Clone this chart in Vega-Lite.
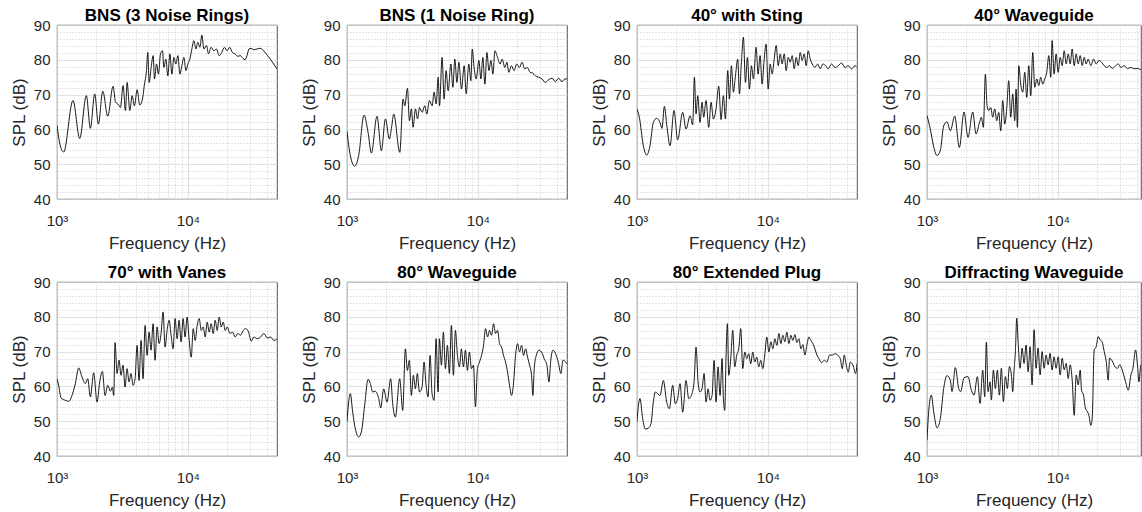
{
"$schema": "https://vega.github.io/schema/vega-lite/v6.json",
"background": "white",
"padding": {"left": 9, "top": 6, "right": 0, "bottom": 0},
"columns": 4,
"spacing": {"row": 83, "column": 70},
"bounds": "flush",
"resolve": {"scale": {"x": "independent", "y": "independent"}},
"config": {
"font": "Liberation Sans",
"view": {"stroke": "#262626", "strokeWidth": 0.8},
"title": {"font": "Liberation Sans", "fontSize": 17, "fontWeight": "bold", "color": "#000000", "anchor": "middle", "offset": -7, "frame": "group", "baseline": "alphabetic"},
"axis": {"labelFont": "Liberation Sans", "labelFontSize": 15, "labelColor": "#262626", "titleFont": "Liberation Sans", "titleFontSize": 17, "titleFontWeight": "normal", "titleColor": "#262626", "domain": false, "ticks": false, "gridWidth": 0.8},
"axisX": {"labelPadding": 14, "titlePadding": 7},
"axisY": {"labelPadding": 7, "titlePadding": 5}
},
"datasets": {
"p1": [{"f":1000,"spl":61.1},{"f":1060,"spl":55.3},{"f":1124,"spl":53.5},{"f":1325,"spl":68.3},{"f":1491,"spl":57.4},{"f":1676,"spl":69.7},{"f":1799,"spl":60.3},{"f":1942,"spl":70.2},{"f":2072,"spl":61.5},{"f":2237,"spl":71},{"f":2443,"spl":63.8},{"f":2682,"spl":72.4},{"f":2795,"spl":68},{"f":2964,"spl":67},{"f":3053,"spl":66.3},{"f":3200,"spl":72.6},{"f":3335,"spl":65.4},{"f":3434,"spl":73.5},{"f":3600,"spl":65.4},{"f":3750,"spl":69.7},{"f":3905,"spl":66.8},{"f":4096,"spl":71.4},{"f":4290,"spl":67},{"f":4500,"spl":68.7},{"f":4660,"spl":73},{"f":4830,"spl":76.9},{"f":4940,"spl":82.1},{"f":5060,"spl":73.5},{"f":5240,"spl":77.8},{"f":5430,"spl":81.2},{"f":5560,"spl":74.5},{"f":5760,"spl":78.8},{"f":5960,"spl":75.9},{"f":6180,"spl":81.7},{"f":6400,"spl":82.6},{"f":6555,"spl":77.8},{"f":6790,"spl":80.2},{"f":7030,"spl":75.4},{"f":7290,"spl":81.7},{"f":7550,"spl":75.9},{"f":7820,"spl":80.7},{"f":8100,"spl":78.8},{"f":8390,"spl":81.2},{"f":8690,"spl":75.9},{"f":9000,"spl":78.3},{"f":9330,"spl":80.7},{"f":9660,"spl":76.9},{"f":10000,"spl":78.8},{"f":10360,"spl":80.2},{"f":10730,"spl":83.1},{"f":11120,"spl":85.5},{"f":11520,"spl":83.1},{"f":11930,"spl":85},{"f":12360,"spl":83.6},{"f":12800,"spl":87.1},{"f":13260,"spl":83.1},{"f":13880,"spl":84.1},{"f":14380,"spl":81.7},{"f":15060,"spl":83.6},{"f":15790,"spl":82.6},{"f":16540,"spl":83.1},{"f":17330,"spl":81.2},{"f":18160,"spl":82.1},{"f":19030,"spl":83.6},{"f":19940,"spl":82.6},{"f":20890,"spl":83.6},{"f":21890,"spl":82.1},{"f":22940,"spl":81.7},{"f":24040,"spl":81},{"f":25190,"spl":81.2},{"f":26390,"spl":80.4},{"f":27330,"spl":80},{"f":28310,"spl":81.2},{"f":29320,"spl":83.1},{"f":30370,"spl":83.3},{"f":31800,"spl":82.9},{"f":33760,"spl":83.1},{"f":35790,"spl":83.3},{"f":37950,"spl":82.6},{"f":40240,"spl":81.4},{"f":42660,"spl":80.2},{"f":45240,"spl":78.8},{"f":47970,"spl":77.4}],
"p2": [{"f":1000,"spl":59.5},{"f":1060,"spl":52.5},{"f":1145,"spl":49.4},{"f":1228,"spl":52.5},{"f":1349,"spl":64.1},{"f":1448,"spl":59.2},{"f":1536,"spl":53.2},{"f":1696,"spl":63.8},{"f":1831,"spl":53.9},{"f":1966,"spl":63},{"f":2109,"spl":57.2},{"f":2185,"spl":60.3},{"f":2276,"spl":64.4},{"f":2531,"spl":53.4},{"f":2682,"spl":68.7},{"f":2765,"spl":66.8},{"f":2896,"spl":71.8},{"f":3000,"spl":62.5},{"f":3105,"spl":65.9},{"f":3200,"spl":60.6},{"f":3335,"spl":65.9},{"f":3460,"spl":63},{"f":3580,"spl":66.3},{"f":3750,"spl":64.9},{"f":3930,"spl":66.8},{"f":4070,"spl":64.4},{"f":4265,"spl":68.3},{"f":4470,"spl":66.8},{"f":4630,"spl":70.7},{"f":4800,"spl":67.3},{"f":4975,"spl":75},{"f":5090,"spl":66.8},{"f":5330,"spl":80.7},{"f":5520,"spl":68.7},{"f":5720,"spl":76.9},{"f":5930,"spl":71.1},{"f":6220,"spl":78.8},{"f":6440,"spl":72.1},{"f":6670,"spl":80.2},{"f":6910,"spl":73.5},{"f":7160,"spl":79.3},{"f":7500,"spl":71.6},{"f":7860,"spl":78.3},{"f":8140,"spl":70.2},{"f":8530,"spl":78.8},{"f":8840,"spl":74},{"f":9060,"spl":83.1},{"f":9380,"spl":77.4},{"f":9710,"spl":74.5},{"f":10180,"spl":79.8},{"f":10550,"spl":74.5},{"f":10920,"spl":80.7},{"f":11320,"spl":73},{"f":11730,"spl":82.1},{"f":12150,"spl":76.9},{"f":12590,"spl":79.8},{"f":13030,"spl":75.9},{"f":13500,"spl":82.6},{"f":14140,"spl":80.7},{"f":14800,"spl":78.8},{"f":15330,"spl":80.2},{"f":16090,"spl":77.8},{"f":16680,"spl":79.3},{"f":17230,"spl":76.4},{"f":18040,"spl":78.3},{"f":18920,"spl":76.9},{"f":19820,"spl":78.8},{"f":20770,"spl":77.8},{"f":21770,"spl":79.3},{"f":22800,"spl":77.4},{"f":23900,"spl":77.8},{"f":25040,"spl":76.4},{"f":26240,"spl":76.2},{"f":27500,"spl":75.4},{"f":29160,"spl":75},{"f":30900,"spl":74.5},{"f":32820,"spl":73.5},{"f":34780,"spl":74.3},{"f":36890,"spl":74.7},{"f":39100,"spl":73.7},{"f":41470,"spl":74.7},{"f":43950,"spl":73.7},{"f":46060,"spl":74.5},{"f":48000,"spl":74.5}],
"p3": [{"f":1000,"spl":65.9},{"f":1042,"spl":63.5},{"f":1118,"spl":55.3},{"f":1186,"spl":52.6},{"f":1257,"spl":55.3},{"f":1333,"spl":62},{"f":1414,"spl":63.2},{"f":1499,"spl":62},{"f":1553,"spl":60.3},{"f":1618,"spl":66.6},{"f":1696,"spl":60.6},{"f":1788,"spl":55.3},{"f":1918,"spl":65.4},{"f":2046,"spl":57},{"f":2235,"spl":64.9},{"f":2370,"spl":60.1},{"f":2543,"spl":63.9},{"f":2665,"spl":61.3},{"f":2745,"spl":75},{"f":2826,"spl":64.4},{"f":2911,"spl":69.7},{"f":3033,"spl":62},{"f":3142,"spl":67.8},{"f":3235,"spl":63.5},{"f":3371,"spl":68.3},{"f":3533,"spl":60.6},{"f":3681,"spl":67.8},{"f":3835,"spl":63},{"f":4020,"spl":65.9},{"f":4213,"spl":72.4},{"f":4390,"spl":62.8},{"f":4574,"spl":69.7},{"f":4738,"spl":63},{"f":4937,"spl":76.9},{"f":5084,"spl":68.7},{"f":5266,"spl":78.3},{"f":5455,"spl":70.7},{"f":5651,"spl":75.4},{"f":5887,"spl":80.2},{"f":6063,"spl":70.2},{"f":6280,"spl":79.3},{"f":6505,"spl":86.5},{"f":6739,"spl":73.5},{"f":6980,"spl":80.7},{"f":7230,"spl":71.6},{"f":7489,"spl":78.3},{"f":7758,"spl":74.5},{"f":8131,"spl":83.6},{"f":8422,"spl":75.9},{"f":8724,"spl":81.2},{"f":9038,"spl":73},{"f":9361,"spl":79.8},{"f":9697,"spl":84.5},{"f":10060,"spl":71.6},{"f":10420,"spl":78.8},{"f":10790,"spl":75.9},{"f":11180,"spl":80.2},{"f":11580,"spl":84.1},{"f":12000,"spl":78.3},{"f":12430,"spl":81.7},{"f":12870,"spl":78.8},{"f":13330,"spl":81.7},{"f":13810,"spl":76.9},{"f":14310,"spl":80.7},{"f":14820,"spl":79.3},{"f":15350,"spl":81.2},{"f":15900,"spl":77.4},{"f":16470,"spl":80.7},{"f":17060,"spl":78.3},{"f":17670,"spl":82.1},{"f":18300,"spl":79.8},{"f":18960,"spl":81.7},{"f":19640,"spl":78.3},{"f":20340,"spl":82.6},{"f":21070,"spl":80.2},{"f":21830,"spl":78.8},{"f":22880,"spl":77.8},{"f":23980,"spl":78.8},{"f":25130,"spl":77.4},{"f":26340,"spl":78.8},{"f":27610,"spl":78.3},{"f":28930,"spl":77.4},{"f":30680,"spl":78.8},{"f":32540,"spl":77.8},{"f":34510,"spl":78.3},{"f":36590,"spl":79.1},{"f":38810,"spl":77.8},{"f":41150,"spl":78.3},{"f":43640,"spl":77.4},{"f":46280,"spl":78.3},{"f":48000,"spl":77.8}],
"p4": [{"f":1000,"spl":64},{"f":1061,"spl":60},{"f":1125,"spl":55},{"f":1193,"spl":52.5},{"f":1265,"spl":54},{"f":1341,"spl":61},{"f":1422,"spl":62.2},{"f":1508,"spl":59.6},{"f":1628,"spl":63.8},{"f":1767,"spl":54.8},{"f":1918,"spl":65},{"f":2058,"spl":57.7},{"f":2235,"spl":65},{"f":2370,"spl":58.7},{"f":2513,"spl":61.8},{"f":2603,"spl":63.5},{"f":2697,"spl":60.6},{"f":2794,"spl":75.9},{"f":2877,"spl":66.8},{"f":2963,"spl":65.4},{"f":3068,"spl":66.3},{"f":3178,"spl":63.5},{"f":3292,"spl":65.9},{"f":3410,"spl":62.5},{"f":3533,"spl":64.9},{"f":3659,"spl":59.6},{"f":3791,"spl":68.3},{"f":3927,"spl":61.5},{"f":4067,"spl":65.9},{"f":4213,"spl":74},{"f":4364,"spl":63.5},{"f":4521,"spl":70.2},{"f":4683,"spl":62.5},{"f":4794,"spl":71.6},{"f":4908,"spl":60.6},{"f":5025,"spl":78.3},{"f":5204,"spl":73},{"f":5391,"spl":70.7},{"f":5584,"spl":76.4},{"f":5785,"spl":69.2},{"f":5993,"spl":78.3},{"f":6207,"spl":69.7},{"f":6429,"spl":82.1},{"f":6660,"spl":72.1},{"f":6899,"spl":74.5},{"f":7147,"spl":72.6},{"f":7402,"spl":75},{"f":7667,"spl":73},{"f":7942,"spl":74.5},{"f":8227,"spl":76.4},{"f":8523,"spl":81.2},{"f":8827,"spl":75},{"f":9038,"spl":85.5},{"f":9361,"spl":75.9},{"f":9697,"spl":81.7},{"f":10060,"spl":76.4},{"f":10420,"spl":80.7},{"f":10790,"spl":78.3},{"f":11180,"spl":82.6},{"f":11580,"spl":78.8},{"f":12000,"spl":81.7},{"f":12430,"spl":78.8},{"f":12870,"spl":83.1},{"f":13330,"spl":78.3},{"f":13810,"spl":81.7},{"f":14310,"spl":78.8},{"f":14820,"spl":81.2},{"f":15350,"spl":78.3},{"f":15900,"spl":80.7},{"f":16470,"spl":78.8},{"f":17060,"spl":80.2},{"f":17880,"spl":78.3},{"f":18740,"spl":80.2},{"f":19640,"spl":78.8},{"f":20580,"spl":79.8},{"f":21570,"spl":79.3},{"f":22610,"spl":78.3},{"f":23700,"spl":77.8},{"f":24840,"spl":78.3},{"f":26030,"spl":77.5},{"f":27610,"spl":78.3},{"f":28930,"spl":78.8},{"f":30330,"spl":77.8},{"f":32160,"spl":78.3},{"f":34100,"spl":77.5},{"f":36170,"spl":77.8},{"f":38350,"spl":77.4},{"f":40670,"spl":77.5},{"f":43130,"spl":77.2},{"f":45740,"spl":77.3},{"f":48000,"spl":77}],
"p5": [{"f":1000,"spl":62.2},{"f":1030,"spl":60.3},{"f":1073,"spl":56.7},{"f":1158,"spl":56},{"f":1228,"spl":55.7},{"f":1302,"spl":57.4},{"f":1381,"spl":60.8},{"f":1465,"spl":65.3},{"f":1553,"spl":62.7},{"f":1647,"spl":60.8},{"f":1716,"spl":62.2},{"f":1799,"spl":57},{"f":1907,"spl":63.9},{"f":2023,"spl":55.5},{"f":2120,"spl":61.3},{"f":2222,"spl":64.3},{"f":2329,"spl":57.4},{"f":2441,"spl":60.3},{"f":2558,"spl":58.6},{"f":2650,"spl":59.8},{"f":2713,"spl":57.4},{"f":2777,"spl":72.6},{"f":2877,"spl":63.7},{"f":2980,"spl":67.5},{"f":3086,"spl":63.2},{"f":3197,"spl":66.1},{"f":3312,"spl":59.8},{"f":3431,"spl":65.1},{"f":3553,"spl":61.3},{"f":3681,"spl":63.7},{"f":3813,"spl":60.3},{"f":3950,"spl":62.2},{"f":4091,"spl":71.8},{"f":4238,"spl":61.7},{"f":4390,"spl":73.2},{"f":4547,"spl":62.2},{"f":4710,"spl":77.5},{"f":4879,"spl":68.9},{"f":5054,"spl":75.6},{"f":5235,"spl":70.4},{"f":5423,"spl":78},{"f":5617,"spl":67.5},{"f":5819,"spl":77.1},{"f":6028,"spl":72.3},{"f":6243,"spl":75.2},{"f":6467,"spl":81.4},{"f":6699,"spl":71.3},{"f":6939,"spl":76.1},{"f":7188,"spl":79},{"f":7446,"spl":74.7},{"f":7712,"spl":70.8},{"f":7989,"spl":79.5},{"f":8275,"spl":73.7},{"f":8572,"spl":79},{"f":8879,"spl":72.8},{"f":9198,"spl":79.5},{"f":9528,"spl":74.2},{"f":9869,"spl":79.9},{"f":10240,"spl":73.2},{"f":10610,"spl":68.4},{"f":10990,"spl":76.6},{"f":11380,"spl":73.2},{"f":11790,"spl":77.5},{"f":12210,"spl":79.5},{"f":12650,"spl":76.1},{"f":13100,"spl":77.1},{"f":13570,"spl":74.2},{"f":14060,"spl":78.5},{"f":14560,"spl":75.6},{"f":15080,"spl":78},{"f":15620,"spl":75.2},{"f":16180,"spl":79},{"f":16760,"spl":76.1},{"f":17360,"spl":79.9},{"f":17990,"spl":77.1},{"f":18630,"spl":78.5},{"f":19300,"spl":76.1},{"f":20000,"spl":77.1},{"f":20950,"spl":75.2},{"f":21960,"spl":75.6},{"f":23010,"spl":74.2},{"f":24120,"spl":75.2},{"f":25280,"spl":74.7},{"f":26500,"spl":76.1},{"f":27770,"spl":76.6},{"f":29110,"spl":75.6},{"f":30500,"spl":73},{"f":31970,"spl":74.2},{"f":33900,"spl":73.7},{"f":35950,"spl":74.2},{"f":38130,"spl":75.2},{"f":40430,"spl":73.9},{"f":42880,"spl":74.2},{"f":45470,"spl":73.2},{"f":48000,"spl":73.7}],
"p6": [{"f":1000,"spl":49.8},{"f":1030,"spl":55.5},{"f":1061,"spl":57.9},{"f":1105,"spl":52.6},{"f":1158,"spl":47.8},{"f":1228,"spl":45.5},{"f":1287,"spl":46.9},{"f":1365,"spl":54.6},{"f":1448,"spl":62},{"f":1508,"spl":60.8},{"f":1571,"spl":58.4},{"f":1647,"spl":58.6},{"f":1747,"spl":56.5},{"f":1809,"spl":53.8},{"f":1907,"spl":59.3},{"f":2023,"spl":55.5},{"f":2157,"spl":62.2},{"f":2235,"spl":55},{"f":2343,"spl":51.2},{"f":2528,"spl":62.2},{"f":2665,"spl":53.1},{"f":2794,"spl":70.8},{"f":2893,"spl":64.6},{"f":2998,"spl":67.5},{"f":3105,"spl":57.4},{"f":3216,"spl":63.2},{"f":3332,"spl":59.3},{"f":3451,"spl":63.7},{"f":3574,"spl":58.4},{"f":3747,"spl":59.8},{"f":3881,"spl":67},{"f":4020,"spl":60.3},{"f":4164,"spl":57},{"f":4313,"spl":68.9},{"f":4468,"spl":57.9},{"f":4628,"spl":56},{"f":4794,"spl":73.7},{"f":4966,"spl":58.4},{"f":5084,"spl":73.7},{"f":5266,"spl":66.1},{"f":5455,"spl":75.6},{"f":5651,"spl":65.1},{"f":5853,"spl":71.8},{"f":6063,"spl":63.7},{"f":6280,"spl":77.5},{"f":6505,"spl":63.2},{"f":6739,"spl":76.1},{"f":6980,"spl":68.9},{"f":7230,"spl":65.6},{"f":7489,"spl":70.8},{"f":7758,"spl":65.6},{"f":8037,"spl":70.4},{"f":8324,"spl":64.6},{"f":8623,"spl":69.9},{"f":8932,"spl":65.1},{"f":9252,"spl":66.1},{"f":9585,"spl":54.1},{"f":9927,"spl":65.1},{"f":10300,"spl":67},{"f":10670,"spl":68.9},{"f":11050,"spl":71.8},{"f":11450,"spl":76.6},{"f":11860,"spl":74.2},{"f":12280,"spl":76.1},{"f":12720,"spl":74.7},{"f":13180,"spl":78},{"f":13650,"spl":75.2},{"f":14140,"spl":76.1},{"f":14650,"spl":72.3},{"f":15170,"spl":71.3},{"f":15710,"spl":68.9},{"f":16280,"spl":67},{"f":16860,"spl":64.1},{"f":17470,"spl":60.3},{"f":18090,"spl":57.4},{"f":18740,"spl":61},{"f":19410,"spl":68.9},{"f":20110,"spl":72.3},{"f":20830,"spl":69.9},{"f":21570,"spl":71.8},{"f":22350,"spl":68.9},{"f":23150,"spl":70.8},{"f":23980,"spl":68.4},{"f":24840,"spl":66.1},{"f":25730,"spl":63.2},{"f":26340,"spl":57.4},{"f":26970,"spl":65.1},{"f":27940,"spl":68.9},{"f":29280,"spl":70.4},{"f":30680,"spl":69.9},{"f":32160,"spl":67.9},{"f":33710,"spl":66.1},{"f":34910,"spl":61.3},{"f":36170,"spl":67.9},{"f":37470,"spl":70.4},{"f":39270,"spl":69.4},{"f":41150,"spl":67},{"f":43130,"spl":63.7},{"f":44680,"spl":67.5},{"f":46830,"spl":67},{"f":48000,"spl":66.5}],
"p7": [{"f":1000,"spl":49.8},{"f":1030,"spl":55},{"f":1054,"spl":56.5},{"f":1105,"spl":50.7},{"f":1158,"spl":47.7},{"f":1228,"spl":48.1},{"f":1280,"spl":49.3},{"f":1333,"spl":55.5},{"f":1381,"spl":58.4},{"f":1439,"spl":57.9},{"f":1499,"spl":57.4},{"f":1590,"spl":61.7},{"f":1686,"spl":55.5},{"f":1767,"spl":53.6},{"f":1874,"spl":60.3},{"f":1964,"spl":55},{"f":2046,"spl":56.5},{"f":2132,"spl":60.8},{"f":2235,"spl":52.6},{"f":2370,"spl":61.7},{"f":2484,"spl":56.5},{"f":2603,"spl":57.4},{"f":2729,"spl":61.3},{"f":2826,"spl":71.3},{"f":2928,"spl":61.3},{"f":3033,"spl":58.4},{"f":3142,"spl":59.3},{"f":3254,"spl":63.7},{"f":3371,"spl":55.5},{"f":3492,"spl":59.3},{"f":3617,"spl":56},{"f":3747,"spl":57.4},{"f":3881,"spl":67.5},{"f":4020,"spl":55.5},{"f":4164,"spl":65.6},{"f":4313,"spl":57.4},{"f":4468,"spl":68},{"f":4574,"spl":56.5},{"f":4683,"spl":53.1},{"f":4794,"spl":69},{"f":4908,"spl":78},{"f":5025,"spl":63.2},{"f":5204,"spl":68},{"f":5391,"spl":76.1},{"f":5584,"spl":65.6},{"f":5785,"spl":69},{"f":5993,"spl":70.8},{"f":6207,"spl":76.6},{"f":6429,"spl":65.1},{"f":6660,"spl":69.9},{"f":6899,"spl":68},{"f":7147,"spl":69.4},{"f":7402,"spl":66.5},{"f":7667,"spl":69.9},{"f":7942,"spl":67},{"f":8227,"spl":68.4},{"f":8523,"spl":65.6},{"f":8827,"spl":67.5},{"f":9144,"spl":65.1},{"f":9472,"spl":69},{"f":9811,"spl":74.2},{"f":10180,"spl":69.9},{"f":10540,"spl":72.8},{"f":10920,"spl":70.8},{"f":11310,"spl":73.7},{"f":11720,"spl":71.8},{"f":12140,"spl":75.2},{"f":12570,"spl":72.3},{"f":13020,"spl":74.7},{"f":13490,"spl":72.8},{"f":13970,"spl":75.6},{"f":14480,"spl":72.3},{"f":14990,"spl":74.7},{"f":15530,"spl":73.2},{"f":16090,"spl":74.9},{"f":16660,"spl":72.6},{"f":17260,"spl":73.7},{"f":17880,"spl":70.8},{"f":18520,"spl":72},{"f":19180,"spl":69},{"f":19870,"spl":71.8},{"f":20580,"spl":74.2},{"f":21320,"spl":73.2},{"f":22090,"spl":72.3},{"f":22880,"spl":70.8},{"f":23700,"spl":69},{"f":24550,"spl":68},{"f":25730,"spl":66.8},{"f":26970,"spl":67.5},{"f":28260,"spl":67},{"f":29630,"spl":69},{"f":31050,"spl":69},{"f":32540,"spl":69.4},{"f":34100,"spl":69},{"f":35740,"spl":68},{"f":37030,"spl":65.1},{"f":38350,"spl":69},{"f":39730,"spl":66.1},{"f":41150,"spl":64.1},{"f":42630,"spl":67},{"f":44680,"spl":66.1},{"f":46830,"spl":63.7},{"f":48000,"spl":66.5}],
"p8": [{"f":1000,"spl":44.5},{"f":1030,"spl":52.7},{"f":1079,"spl":57.5},{"f":1125,"spl":52.7},{"f":1193,"spl":48.1},{"f":1265,"spl":50.8},{"f":1341,"spl":59.4},{"f":1422,"spl":63.1},{"f":1508,"spl":61.8},{"f":1553,"spl":58.5},{"f":1647,"spl":65.4},{"f":1747,"spl":59.4},{"f":1809,"spl":58.5},{"f":1918,"spl":62.5},{"f":2058,"spl":62.8},{"f":2183,"spl":58.9},{"f":2288,"spl":57.5},{"f":2426,"spl":62.8},{"f":2543,"spl":55.1},{"f":2665,"spl":64.7},{"f":2761,"spl":57},{"f":2843,"spl":72.7},{"f":2928,"spl":58.5},{"f":3033,"spl":61.3},{"f":3105,"spl":56.1},{"f":3216,"spl":64.7},{"f":3332,"spl":59.4},{"f":3451,"spl":64.7},{"f":3574,"spl":57.5},{"f":3702,"spl":65.2},{"f":3835,"spl":55.6},{"f":3973,"spl":62.8},{"f":4115,"spl":59.4},{"f":4263,"spl":65.7},{"f":4416,"spl":63.3},{"f":4521,"spl":58.5},{"f":4628,"spl":64.7},{"f":4738,"spl":70},{"f":4850,"spl":79.6},{"f":4966,"spl":72.9},{"f":5144,"spl":65.2},{"f":5329,"spl":71},{"f":5519,"spl":66.6},{"f":5717,"spl":71.9},{"f":5922,"spl":64.2},{"f":6134,"spl":71.4},{"f":6355,"spl":60.4},{"f":6582,"spl":76.3},{"f":6818,"spl":65.2},{"f":7062,"spl":71},{"f":7316,"spl":63.3},{"f":7579,"spl":70},{"f":7850,"spl":65.2},{"f":8131,"spl":69},{"f":8422,"spl":66.2},{"f":8724,"spl":69.5},{"f":9038,"spl":64.7},{"f":9361,"spl":68.5},{"f":9697,"spl":65.2},{"f":10060,"spl":68.5},{"f":10420,"spl":63.3},{"f":10790,"spl":68.1},{"f":11180,"spl":64.7},{"f":11580,"spl":66.6},{"f":12000,"spl":62.3},{"f":12430,"spl":66.2},{"f":12870,"spl":61.8},{"f":13330,"spl":51.7},{"f":13810,"spl":63.3},{"f":14310,"spl":60.4},{"f":14820,"spl":64.7},{"f":15170,"spl":58.9},{"f":15710,"spl":57.5},{"f":16280,"spl":53.6},{"f":16860,"spl":52.7},{"f":17260,"spl":51.7},{"f":17880,"spl":48.8},{"f":18300,"spl":50.8},{"f":18960,"spl":70.5},{"f":19640,"spl":71.4},{"f":20340,"spl":74.3},{"f":21070,"spl":73.4},{"f":21830,"spl":72.7},{"f":22610,"spl":70},{"f":23430,"spl":67.1},{"f":24260,"spl":61.8},{"f":24840,"spl":68.1},{"f":26030,"spl":67.3},{"f":27290,"spl":65.7},{"f":28600,"spl":65.2},{"f":29630,"spl":66.2},{"f":31050,"spl":64.7},{"f":32920,"spl":61.3},{"f":34510,"spl":58.9},{"f":36170,"spl":63.3},{"f":37470,"spl":65.2},{"f":39270,"spl":70.5},{"f":40670,"spl":65.7},{"f":41640,"spl":61.3},{"f":43130,"spl":66.2},{"f":46010,"spl":64},{"f":48000,"spl":63}]
},
"concat": [
{"title": {"text": "BNS (3 Noise Rings)", "frame": "group", "offset": -7}, "width": 220, "height": 174, "data": {"name": "p1"},
 "mark": {"type": "line", "color": "#000000", "strokeWidth": 0.9, "interpolate": "monotone", "clip": true},
 "encoding": {
  "x": {"field": "f", "type": "quantitative", "scale": {"type": "log", "domain": [1000, 48000], "nice": false}, "axis": {"title": "Frequency (Hz)", "values": [1000,2000,3000,4000,5000,6000,7000,8000,9000,10000,20000,30000,40000], "labelExpr": "datum.value == 1000 ? '10³' : (datum.value == 10000 ? '10⁴' : '')", "labelOverlap": false, "labelFlush": false, "gridDash": {"condition": {"test": "datum.value == 1000 || datum.value == 10000", "value": []}, "value": [1, 2]}, "gridColor": {"condition": {"test": "datum.value == 1000 || datum.value == 10000", "value": "#d9d9d9"}, "value": "#bdbdbd"}}},
  "y": {"field": "spl", "type": "quantitative", "scale": {"domain": [40, 90], "nice": false, "zero": false}, "axis": {"title": "SPL (dB)", "values": [40,42,44,46,48,50,52,54,56,58,60,62,64,66,68,70,72,74,76,78,80,82,84,86,88,90], "labelExpr": "datum.value % 10 == 0 ? datum.label : ''", "labelOverlap": false, "gridDash": {"condition": {"test": "datum.value % 10 == 0", "value": []}, "value": [1, 2]}, "gridColor": {"condition": {"test": "datum.value % 10 == 0", "value": "#d9d9d9"}, "value": "#bdbdbd"}}}
 }},
{"title": {"text": "BNS (1 Noise Ring)", "frame": "group", "offset": -7}, "width": 220, "height": 174, "data": {"name": "p2"},
 "mark": {"type": "line", "color": "#000000", "strokeWidth": 0.9, "interpolate": "monotone", "clip": true},
 "encoding": {
  "x": {"field": "f", "type": "quantitative", "scale": {"type": "log", "domain": [1000, 48000], "nice": false}, "axis": {"title": "Frequency (Hz)", "values": [1000,2000,3000,4000,5000,6000,7000,8000,9000,10000,20000,30000,40000], "labelExpr": "datum.value == 1000 ? '10³' : (datum.value == 10000 ? '10⁴' : '')", "labelOverlap": false, "labelFlush": false, "gridDash": {"condition": {"test": "datum.value == 1000 || datum.value == 10000", "value": []}, "value": [1, 2]}, "gridColor": {"condition": {"test": "datum.value == 1000 || datum.value == 10000", "value": "#d9d9d9"}, "value": "#bdbdbd"}}},
  "y": {"field": "spl", "type": "quantitative", "scale": {"domain": [40, 90], "nice": false, "zero": false}, "axis": {"title": "SPL (dB)", "values": [40,42,44,46,48,50,52,54,56,58,60,62,64,66,68,70,72,74,76,78,80,82,84,86,88,90], "labelExpr": "datum.value % 10 == 0 ? datum.label : ''", "labelOverlap": false, "gridDash": {"condition": {"test": "datum.value % 10 == 0", "value": []}, "value": [1, 2]}, "gridColor": {"condition": {"test": "datum.value % 10 == 0", "value": "#d9d9d9"}, "value": "#bdbdbd"}}}
 }},
{"title": {"text": "40° with Sting", "frame": "group", "offset": -7}, "width": 220, "height": 174, "data": {"name": "p3"},
 "mark": {"type": "line", "color": "#000000", "strokeWidth": 0.9, "interpolate": "monotone", "clip": true},
 "encoding": {
  "x": {"field": "f", "type": "quantitative", "scale": {"type": "log", "domain": [1000, 48000], "nice": false}, "axis": {"title": "Frequency (Hz)", "values": [1000,2000,3000,4000,5000,6000,7000,8000,9000,10000,20000,30000,40000], "labelExpr": "datum.value == 1000 ? '10³' : (datum.value == 10000 ? '10⁴' : '')", "labelOverlap": false, "labelFlush": false, "gridDash": {"condition": {"test": "datum.value == 1000 || datum.value == 10000", "value": []}, "value": [1, 2]}, "gridColor": {"condition": {"test": "datum.value == 1000 || datum.value == 10000", "value": "#d9d9d9"}, "value": "#bdbdbd"}}},
  "y": {"field": "spl", "type": "quantitative", "scale": {"domain": [40, 90], "nice": false, "zero": false}, "axis": {"title": "SPL (dB)", "values": [40,42,44,46,48,50,52,54,56,58,60,62,64,66,68,70,72,74,76,78,80,82,84,86,88,90], "labelExpr": "datum.value % 10 == 0 ? datum.label : ''", "labelOverlap": false, "gridDash": {"condition": {"test": "datum.value % 10 == 0", "value": []}, "value": [1, 2]}, "gridColor": {"condition": {"test": "datum.value % 10 == 0", "value": "#d9d9d9"}, "value": "#bdbdbd"}}}
 }},
{"title": {"text": "40° Waveguide", "frame": "group", "offset": -7}, "width": 214, "height": 174, "data": {"name": "p4"},
 "mark": {"type": "line", "color": "#000000", "strokeWidth": 0.9, "interpolate": "monotone", "clip": true},
 "encoding": {
  "x": {"field": "f", "type": "quantitative", "scale": {"type": "log", "domain": [1000, 43190], "nice": false}, "axis": {"title": "Frequency (Hz)", "values": [1000,2000,3000,4000,5000,6000,7000,8000,9000,10000,20000,30000,40000], "labelExpr": "datum.value == 1000 ? '10³' : (datum.value == 10000 ? '10⁴' : '')", "labelOverlap": false, "labelFlush": false, "gridDash": {"condition": {"test": "datum.value == 1000 || datum.value == 10000", "value": []}, "value": [1, 2]}, "gridColor": {"condition": {"test": "datum.value == 1000 || datum.value == 10000", "value": "#d9d9d9"}, "value": "#bdbdbd"}}},
  "y": {"field": "spl", "type": "quantitative", "scale": {"domain": [40, 90], "nice": false, "zero": false}, "axis": {"title": "SPL (dB)", "values": [40,42,44,46,48,50,52,54,56,58,60,62,64,66,68,70,72,74,76,78,80,82,84,86,88,90], "labelExpr": "datum.value % 10 == 0 ? datum.label : ''", "labelOverlap": false, "gridDash": {"condition": {"test": "datum.value % 10 == 0", "value": []}, "value": [1, 2]}, "gridColor": {"condition": {"test": "datum.value % 10 == 0", "value": "#d9d9d9"}, "value": "#bdbdbd"}}}
 }},
{"title": {"text": "70° with Vanes", "frame": "group", "offset": -7}, "width": 220, "height": 174, "data": {"name": "p5"},
 "mark": {"type": "line", "color": "#000000", "strokeWidth": 0.9, "interpolate": "monotone", "clip": true},
 "encoding": {
  "x": {"field": "f", "type": "quantitative", "scale": {"type": "log", "domain": [1000, 48000], "nice": false}, "axis": {"title": "Frequency (Hz)", "values": [1000,2000,3000,4000,5000,6000,7000,8000,9000,10000,20000,30000,40000], "labelExpr": "datum.value == 1000 ? '10³' : (datum.value == 10000 ? '10⁴' : '')", "labelOverlap": false, "labelFlush": false, "gridDash": {"condition": {"test": "datum.value == 1000 || datum.value == 10000", "value": []}, "value": [1, 2]}, "gridColor": {"condition": {"test": "datum.value == 1000 || datum.value == 10000", "value": "#d9d9d9"}, "value": "#bdbdbd"}}},
  "y": {"field": "spl", "type": "quantitative", "scale": {"domain": [40, 90], "nice": false, "zero": false}, "axis": {"title": "SPL (dB)", "values": [40,42,44,46,48,50,52,54,56,58,60,62,64,66,68,70,72,74,76,78,80,82,84,86,88,90], "labelExpr": "datum.value % 10 == 0 ? datum.label : ''", "labelOverlap": false, "gridDash": {"condition": {"test": "datum.value % 10 == 0", "value": []}, "value": [1, 2]}, "gridColor": {"condition": {"test": "datum.value % 10 == 0", "value": "#d9d9d9"}, "value": "#bdbdbd"}}}
 }},
{"title": {"text": "80° Waveguide", "frame": "group", "offset": -7}, "width": 220, "height": 174, "data": {"name": "p6"},
 "mark": {"type": "line", "color": "#000000", "strokeWidth": 0.9, "interpolate": "monotone", "clip": true},
 "encoding": {
  "x": {"field": "f", "type": "quantitative", "scale": {"type": "log", "domain": [1000, 48000], "nice": false}, "axis": {"title": "Frequency (Hz)", "values": [1000,2000,3000,4000,5000,6000,7000,8000,9000,10000,20000,30000,40000], "labelExpr": "datum.value == 1000 ? '10³' : (datum.value == 10000 ? '10⁴' : '')", "labelOverlap": false, "labelFlush": false, "gridDash": {"condition": {"test": "datum.value == 1000 || datum.value == 10000", "value": []}, "value": [1, 2]}, "gridColor": {"condition": {"test": "datum.value == 1000 || datum.value == 10000", "value": "#d9d9d9"}, "value": "#bdbdbd"}}},
  "y": {"field": "spl", "type": "quantitative", "scale": {"domain": [40, 90], "nice": false, "zero": false}, "axis": {"title": "SPL (dB)", "values": [40,42,44,46,48,50,52,54,56,58,60,62,64,66,68,70,72,74,76,78,80,82,84,86,88,90], "labelExpr": "datum.value % 10 == 0 ? datum.label : ''", "labelOverlap": false, "gridDash": {"condition": {"test": "datum.value % 10 == 0", "value": []}, "value": [1, 2]}, "gridColor": {"condition": {"test": "datum.value % 10 == 0", "value": "#d9d9d9"}, "value": "#bdbdbd"}}}
 }},
{"title": {"text": "80° Extended Plug", "frame": "group", "offset": -7}, "width": 220, "height": 174, "data": {"name": "p7"},
 "mark": {"type": "line", "color": "#000000", "strokeWidth": 0.9, "interpolate": "monotone", "clip": true},
 "encoding": {
  "x": {"field": "f", "type": "quantitative", "scale": {"type": "log", "domain": [1000, 48000], "nice": false}, "axis": {"title": "Frequency (Hz)", "values": [1000,2000,3000,4000,5000,6000,7000,8000,9000,10000,20000,30000,40000], "labelExpr": "datum.value == 1000 ? '10³' : (datum.value == 10000 ? '10⁴' : '')", "labelOverlap": false, "labelFlush": false, "gridDash": {"condition": {"test": "datum.value == 1000 || datum.value == 10000", "value": []}, "value": [1, 2]}, "gridColor": {"condition": {"test": "datum.value == 1000 || datum.value == 10000", "value": "#d9d9d9"}, "value": "#bdbdbd"}}},
  "y": {"field": "spl", "type": "quantitative", "scale": {"domain": [40, 90], "nice": false, "zero": false}, "axis": {"title": "SPL (dB)", "values": [40,42,44,46,48,50,52,54,56,58,60,62,64,66,68,70,72,74,76,78,80,82,84,86,88,90], "labelExpr": "datum.value % 10 == 0 ? datum.label : ''", "labelOverlap": false, "gridDash": {"condition": {"test": "datum.value % 10 == 0", "value": []}, "value": [1, 2]}, "gridColor": {"condition": {"test": "datum.value % 10 == 0", "value": "#d9d9d9"}, "value": "#bdbdbd"}}}
 }},
{"title": {"text": "Diffracting Waveguide", "frame": "group", "offset": -7}, "width": 214, "height": 174, "data": {"name": "p8"},
 "mark": {"type": "line", "color": "#000000", "strokeWidth": 0.9, "interpolate": "monotone", "clip": true},
 "encoding": {
  "x": {"field": "f", "type": "quantitative", "scale": {"type": "log", "domain": [1000, 43190], "nice": false}, "axis": {"title": "Frequency (Hz)", "values": [1000,2000,3000,4000,5000,6000,7000,8000,9000,10000,20000,30000,40000], "labelExpr": "datum.value == 1000 ? '10³' : (datum.value == 10000 ? '10⁴' : '')", "labelOverlap": false, "labelFlush": false, "gridDash": {"condition": {"test": "datum.value == 1000 || datum.value == 10000", "value": []}, "value": [1, 2]}, "gridColor": {"condition": {"test": "datum.value == 1000 || datum.value == 10000", "value": "#d9d9d9"}, "value": "#bdbdbd"}}},
  "y": {"field": "spl", "type": "quantitative", "scale": {"domain": [40, 90], "nice": false, "zero": false}, "axis": {"title": "SPL (dB)", "values": [40,42,44,46,48,50,52,54,56,58,60,62,64,66,68,70,72,74,76,78,80,82,84,86,88,90], "labelExpr": "datum.value % 10 == 0 ? datum.label : ''", "labelOverlap": false, "gridDash": {"condition": {"test": "datum.value % 10 == 0", "value": []}, "value": [1, 2]}, "gridColor": {"condition": {"test": "datum.value % 10 == 0", "value": "#d9d9d9"}, "value": "#bdbdbd"}}}
 }}
]
}
